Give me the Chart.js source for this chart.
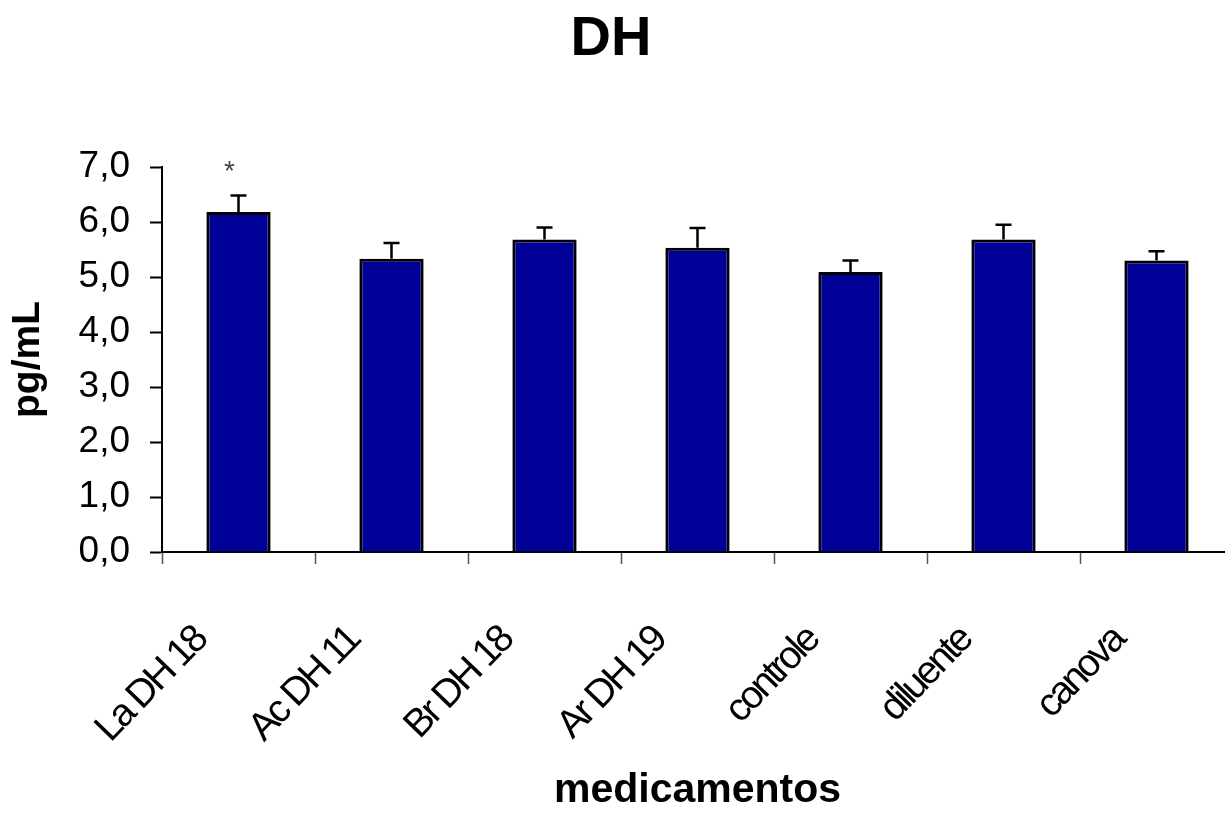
<!DOCTYPE html>
<html>
<head>
<meta charset="utf-8">
<style>
  html, body { margin: 0; padding: 0; overflow: hidden; background: #ffffff; }
  #wrap { width: 1240px; height: 815px; }
</style>
<script src="https://cdn.jsdelivr.net/npm/chart.js@4.4.0/dist/chart.umd.min.js"></script>
</head>
<body>
<div id="wrap"><canvas id="chart" width="1240" height="815"></canvas></div>
<script>
// Treatment groups and measured concentrations (pg/mL), mean with upper error
const categories = ['La DH 18', 'Ac DH 11', 'Br DH 18', 'Ar DH 19', 'controle', 'diluente', 'canova'];
const means = [6.18, 5.33, 5.68, 5.53, 5.09, 5.68, 5.30];
const errors = [0.30, 0.29, 0.22, 0.36, 0.21, 0.27, 0.17];
const significant = [true, false, false, false, false, false, false];
const yTicks = [0, 1, 2, 3, 4, 5, 6, 7];

const FONT = "'Liberation Sans', Arial, Helvetica, sans-serif";

// Main heading drawn above the plot
const headingPlugin = {
  id: 'heading',
  afterDraw(chart) {
    const ctx = chart.ctx;
    ctx.save();
    ctx.fillStyle = '#000';
    ctx.font = 'bold 56px ' + FONT;
    ctx.textAlign = 'center';
    ctx.textBaseline = 'middle';
    ctx.fillText('DH', 611, 40);
    ctx.restore();
  }
};

// Category labels are set tightly: wrap the x scale's label drawing with negative letter spacing
const tightLabelsPlugin = {
  id: 'tightLabels',
  afterLayout(chart) {
    const xs = chart.scales.x;
    if (!xs || xs._tightWrapped) return;
    const original = xs.drawLabels;
    xs.drawLabels = function (area) {
      const ctx = this.ctx;
      ctx.save();
      ctx.letterSpacing = '-3px';
      original.call(this, area);
      ctx.restore();
    };
    xs._tightWrapped = true;
  }
};

// Upper error whiskers and significance marks, placed through the value scale
const errorBarPlugin = {
  id: 'errorBars',
  afterDatasetsDraw(chart) {
    const ctx = chart.ctx;
    const yScale = chart.scales.y;
    const meta = chart.getDatasetMeta(0);
    ctx.save();
    ctx.strokeStyle = '#000';
    ctx.lineWidth = 2.5;
    meta.data.forEach((bar, i) => {
      const x = bar.x;
      const yTop = yScale.getPixelForValue(means[i] + errors[i]);
      ctx.beginPath();
      ctx.moveTo(x, bar.y);
      ctx.lineTo(x, yTop);
      ctx.moveTo(x - 8, yTop);
      ctx.lineTo(x + 8, yTop);
      ctx.stroke();
      if (significant[i]) {
        ctx.fillStyle = '#444';
        ctx.font = '28px ' + FONT;
        ctx.textAlign = 'center';
        ctx.textBaseline = 'alphabetic';
        ctx.fillText('*', x - 9, yTop - 16);
      }
    });
    ctx.restore();
  }
};

new Chart(document.getElementById('chart'), {
  type: 'bar',
  data: {
    labels: categories,
    datasets: [{
      data: means,
      backgroundColor: '#000096',
      borderColor: '#000000',
      borderWidth: 3,
      barPercentage: 0.42,
      categoryPercentage: 1.0
    }]
  },
  options: {
    responsive: false,
    animation: false,
    layout: { padding: { top: 167, right: 7, left: 0, bottom: 0 } },
    plugins: {
      legend: { display: false },
      title: { display: false },
      tooltip: { enabled: false }
    },
    scales: {
      x: {
        type: 'category',
        offset: true,
        grid: {
          offset: true,
          drawOnChartArea: false,
          drawTicks: true,
          tickLength: 12,
          tickColor: '#555',
          tickWidth: 1.5
        },
        border: { display: true, color: '#000', width: 2 },
        ticks: {
          autoSkip: false,
          minRotation: 46,
          maxRotation: 46,
          labelOffset: -38,
          padding: 54,
          color: '#000',
          font: { family: FONT, size: 39 }
        },
        title: {
          display: true,
          text: 'medicamentos',
          color: '#000',
          font: { family: FONT, size: 41, weight: 'bold' },
          padding: { top: 0, bottom: 0 }
        },
        afterFit(scale) {
          scale.height = 263;
          scale.paddingLeft = 0;
          scale.paddingRight = 0;
        }
      },
      y: {
        min: 0,
        max: 7,
        afterBuildTicks(scale) { scale.ticks = yTicks.map(v => ({ value: v })); },
        grid: {
          drawOnChartArea: false,
          drawTicks: true,
          tickLength: 12,
          tickColor: '#000',
          tickWidth: 2
        },
        border: { display: true, color: '#000', width: 2 },
        ticks: {
          padding: 20,
          color: '#000',
          font: { family: FONT, size: 37 },
          callback: v => Number(v).toFixed(1).replace('.', ',')
        },
        title: {
          display: true,
          text: 'pg/mL',
          color: '#000',
          font: { family: FONT, size: 39, weight: 'bold' },
          padding: { top: 5, bottom: 0 }
        },
        afterFit(scale) {
          scale.width = 162;
          scale.paddingTop = 0;
          scale.paddingBottom = 0;
        }
      }
    }
  },
  plugins: [headingPlugin, tightLabelsPlugin, errorBarPlugin]
});
</script>
</body>
</html>
